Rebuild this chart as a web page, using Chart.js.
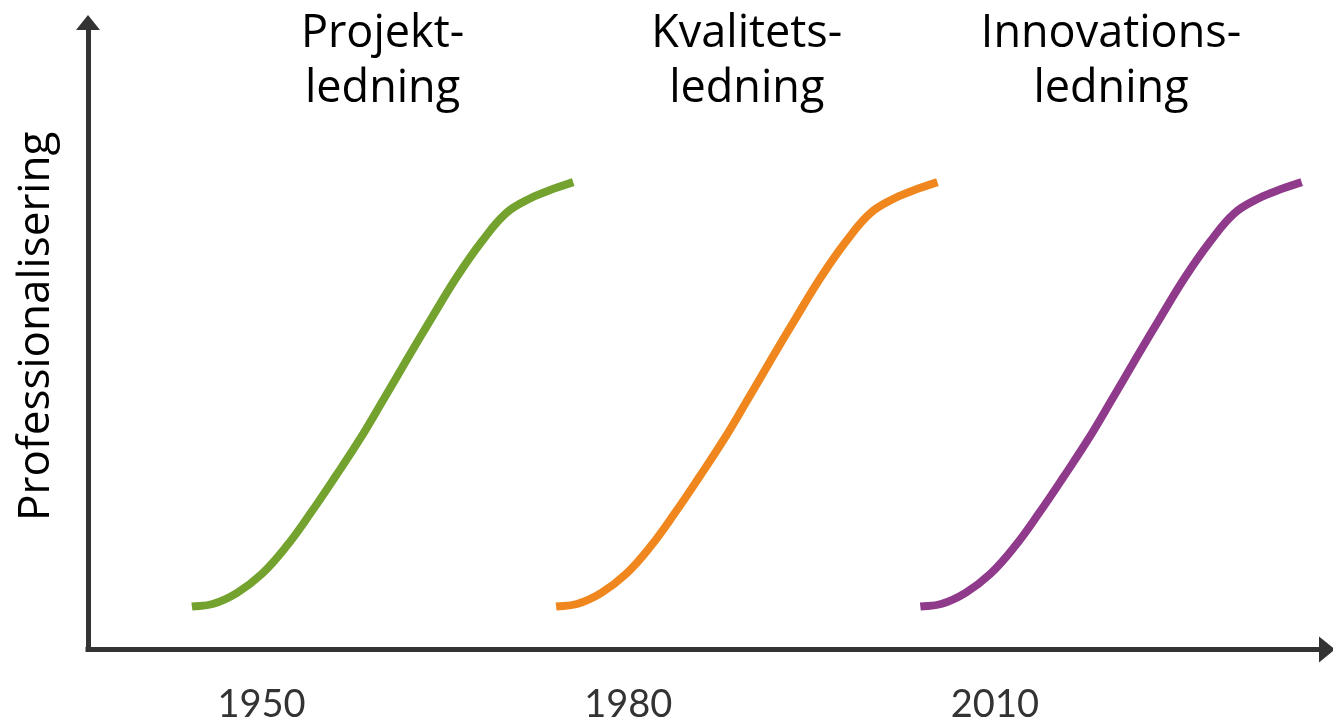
<!DOCTYPE html>
<html>
<head>
<meta charset="utf-8">
<script src="https://cdn.jsdelivr.net/npm/chart.js@4"></script>
<style>
  html, body { margin: 0; padding: 0; background: #fff; }
  canvas { display: block; }
</style>
</head>
<body>
<canvas id="c" width="1333" height="726"></canvas>
<script>
// ---- data ----
const tickYears = [1950, 1980, 2010];
const yTitle = 'Professionalisering';
const curveLabels = [['Projekt-', 'ledning'], ['Kvalitets-', 'ledning'], ['Innovations-', 'ledning']];

const projektYears = [1944.3, 1946, 1948, 1950, 1952, 1954, 1956, 1958, 1960, 1962, 1964, 1966, 1968, 1970, 1972, 1974, 1975.5];
const projektValues = [6.9, 7.3, 9.1, 12.1, 16.5, 21.9, 27.7, 33.7, 40.3, 47.0, 53.6, 60.0, 65.6, 70.2, 72.6, 74.2, 75.2];

const kvalitetYears = [1974.1, 1975.8, 1977.8, 1979.8, 1981.8, 1983.8, 1985.8, 1987.8, 1989.8, 1991.8, 1993.8, 1995.8, 1997.8, 1999.8, 2001.8, 2003.8, 2005.3];
const kvalitetValues = [6.9, 7.3, 9.1, 12.1, 16.5, 21.9, 27.7, 33.7, 40.3, 47.0, 53.6, 60.0, 65.6, 70.2, 72.6, 74.2, 75.2];

const innovationYears = [2003.9, 2005.6, 2007.6, 2009.6, 2011.6, 2013.6, 2015.6, 2017.6, 2019.6, 2021.6, 2023.6, 2025.6, 2027.6, 2029.6, 2031.6, 2033.6, 2035.1];
const innovationValues = [6.9, 7.3, 9.1, 12.1, 16.5, 21.9, 27.7, 33.7, 40.3, 47.0, 53.6, 60.0, 65.6, 70.2, 72.6, 74.2, 75.2];

const seriesColors = ['#73a22f', '#f0871e', '#8f3a8b'];

function pts(xs, ys) { return xs.map((x, i) => ({ x: x, y: ys[i] })); }

const seriesYears = [projektYears, kvalitetYears, innovationYears];
const seriesValues = [projektValues, kvalitetValues, innovationValues];

const datasets = seriesYears.map((ys, i) => ({
  label: curveLabels[i].join(''),
  data: pts(ys, seriesValues[i]),
  borderColor: seriesColors[i],
  borderWidth: 8,
  borderCapStyle: 'butt',
  pointRadius: 0,
  fill: false,
  tension: 0.4
}));

const decor = {
  id: 'decor',
  afterDraw(chart) {
    const ctx = chart.ctx;
    const a = chart.chartArea;
    const xs = chart.scales.x;
    const ysc = chart.scales.y;
    ctx.save();
    ctx.fillStyle = '#333';
    // up arrow
    ctx.beginPath();
    ctx.moveTo(a.left, a.top - 13);
    ctx.lineTo(a.left - 12, a.top + 2);
    ctx.lineTo(a.left + 12, a.top + 2);
    ctx.closePath();
    ctx.fill();
    // right arrow
    ctx.beginPath();
    ctx.moveTo(a.right + 15, a.bottom);
    ctx.lineTo(a.right - 1, a.bottom - 13);
    ctx.lineTo(a.right - 1, a.bottom + 13);
    ctx.closePath();
    ctx.fill();
    // corner
    ctx.fillRect(a.left - 2.5, a.bottom - 2.5, 5, 5);
    // curve labels
    ctx.fillStyle = '#000';
    ctx.font = '45px "Open Sans"';
    ctx.textAlign = 'center';
    ctx.textBaseline = 'alphabetic';
    curveLabels.forEach((lines, i) => {
      const yrs = seriesYears[i];
      const mid = (yrs[0] + yrs[yrs.length - 1]) / 2;
      const px = xs.getPixelForValue(mid);
      lines.forEach((t, j) => ctx.fillText(t, px, 47 + j * 55));
    });
    // y axis title
    ctx.font = '44px "Open Sans"';
    ctx.translate(49, ysc.getPixelForValue(52));
    ctx.rotate(-Math.PI / 2);
    ctx.fillText(yTitle, 0, 0);
    ctx.restore();
  }
};

new Chart(document.getElementById('c'), {
  type: 'line',
  data: { datasets: datasets },
  plugins: [decor],
  options: {
    responsive: false,
    animation: false,
    devicePixelRatio: 1,
    layout: { padding: { top: 28, right: 13, bottom: -35, left: 88 } },
    plugins: { legend: { display: false }, tooltip: { enabled: false } },
    scales: {
      x: {
        type: 'linear',
        min: 1935.8,
        max: 2036.6,
        grid: { display: false, drawTicks: false },
        border: { display: true, width: 5, color: '#333' },
        afterBuildTicks(scale) { scale.ticks = tickYears.map(v => ({ value: v })); },
        ticks: {
          padding: 33,
          color: '#333',
          font: { family: 'Lato', size: 38 },
          callback: v => String(v)
        }
      },
      y: {
        type: 'linear',
        min: 0,
        max: 100,
        grid: { display: false, drawTicks: false },
        border: { display: true, width: 5, color: '#333' },
        ticks: { display: false },
        title: { display: false, text: yTitle }
      }
    }
  }
});
</script>
</body>
</html>
